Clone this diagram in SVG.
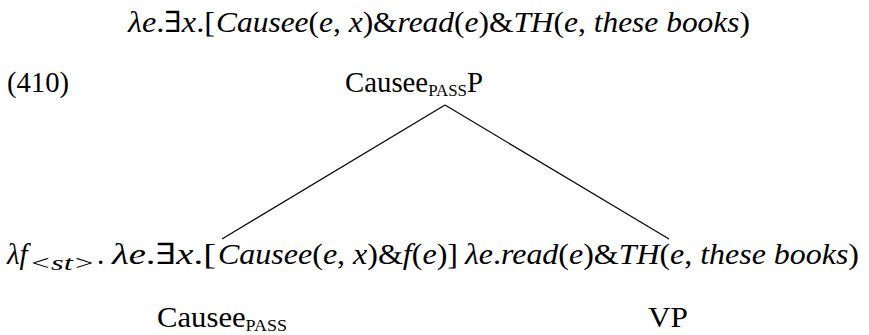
<svg xmlns="http://www.w3.org/2000/svg" width="869" height="335" viewBox="0 0 869 335">
<style>
text{font-family:"Liberation Serif","DejaVu Serif",serif;font-size:29px;fill:#000}
.i{font-style:italic}
.sc{font-size:17px}
.sub{font-size:21px;font-style:italic}
.edge{stroke:#000;stroke-width:1.2;fill:none}
</style>
<rect width="869" height="335" fill="#fff"/>
<g id="top-formula">
<text x="128" y="32" textLength="87" lengthAdjust="spacingAndGlyphs"><tspan class="i">λe</tspan>.∃<tspan class="i">x</tspan>.[</text>
<text x="216" y="32" textLength="534" lengthAdjust="spacingAndGlyphs"><tspan class="i">Causee</tspan>(<tspan class="i">e</tspan>, <tspan class="i">x</tspan>)&amp;<tspan class="i">read</tspan>(<tspan class="i">e</tspan>)&amp;<tspan class="i">TH</tspan>(<tspan class="i">e</tspan>, <tspan class="i">these books</tspan>)</text>
</g>
<g id="example-number">
<text x="7" y="92" textLength="62" lengthAdjust="spacingAndGlyphs">(410)</text>
</g>
<g id="root">
<text x="345" y="92" textLength="138" lengthAdjust="spacingAndGlyphs">Causee<tspan class="sc" dy="4">PASS</tspan><tspan dy="-4">P</tspan></text>
</g>
<g id="connectors">
<line class="edge" x1="445" y1="105" x2="222" y2="239"/>
<line class="edge" x1="445" y1="105" x2="669" y2="239"/>
</g>
<g id="left-daughter">
<text class="i" x="7" y="264">λf</text>
<text class="sub" x="29" y="270" textLength="66" lengthAdjust="spacingAndGlyphs">&lt;st&gt;</text>
<text x="97" y="264">.</text>
<text x="112" y="264" textLength="104" lengthAdjust="spacingAndGlyphs"><tspan class="i">λe</tspan>.∃<tspan class="i">x</tspan>.[</text>
<text x="218" y="264" textLength="240" lengthAdjust="spacingAndGlyphs"><tspan class="i">Causee</tspan>(<tspan class="i">e</tspan>, <tspan class="i">x</tspan>)&amp;<tspan class="i">f</tspan>(<tspan class="i">e</tspan>)]</text>
<text x="157" y="327" textLength="130" lengthAdjust="spacingAndGlyphs">Causee<tspan class="sc" dy="4">PASS</tspan></text>
</g>
<g id="right-daughter">
<text x="465" y="264" textLength="394" lengthAdjust="spacingAndGlyphs"><tspan class="i">λe</tspan>.<tspan class="i">read</tspan>(<tspan class="i">e</tspan>)&amp;<tspan class="i">TH</tspan>(<tspan class="i">e</tspan>, <tspan class="i">these books</tspan>)</text>
<text x="648" y="327" textLength="40" lengthAdjust="spacingAndGlyphs">VP</text>
</g>
</svg>
